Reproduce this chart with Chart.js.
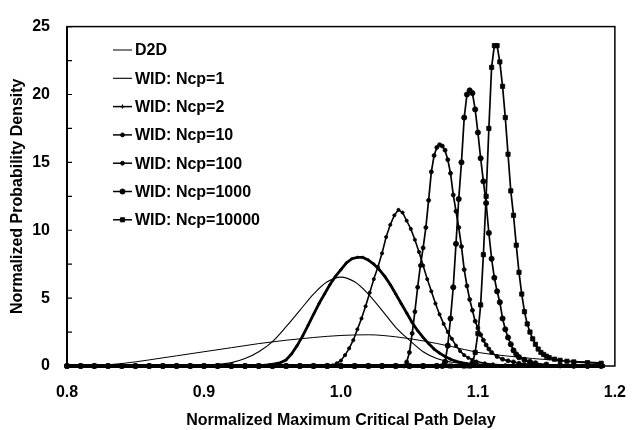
<!DOCTYPE html>
<html>
<head>
<meta charset="utf-8">
<script src="https://cdn.jsdelivr.net/npm/chart.js@4.4.1/dist/chart.umd.min.js"></script>
<style>
html,body{margin:0;padding:0;background:#fff;}
canvas{display:block;}
</style>
</head>
<body>
<canvas id="c" width="643" height="430"></canvas>
<script>
// ---- Data ----
const seriesLabels = ["D2D","WID: Ncp=1","WID: Ncp=2","WID: Ncp=10","WID: Ncp=100","WID: Ncp=1000","WID: Ncp=10000"];

const d2dX = [0.80,0.82,0.84,0.86,0.88,0.90,0.92,0.94,0.96,0.98,1.00,1.02,1.04,1.06,1.08,1.10,1.12,1.14,1.16,1.18,1.19];
const d2dY = [0.0,0.03,0.18,0.45,0.75,1.05,1.35,1.65,1.9,2.1,2.25,2.3,2.15,1.85,1.45,1.0,0.75,0.55,0.4,0.3,0.25];

const ncp1X = [0.80,0.82,0.84,0.86,0.88,0.90,0.91,0.92,0.93,0.94,0.95,0.96,0.97,0.98,0.99,1.00,1.01,1.02,1.03,1.04,1.05,1.06,1.07,1.08,1.09,1.10,1.11,1.12,1.14,1.16,1.18,1.19];
const ncp1Y = [0,0,0,0,0,0.05,0.12,0.25,0.55,1.05,1.8,2.9,4.1,5.3,6.2,6.55,6.2,5.3,4.1,2.85,1.9,1.05,0.55,0.3,0.15,0.07,0.03,0.01,0,0,0,0];

const ncp2X = [0.80,0.81,0.82,0.83,0.84,0.85,0.86,0.87,0.88,0.89,0.90,0.91,0.92,0.93,
  0.940,0.944,0.948,0.952,0.956,0.960,0.964,0.968,0.972,0.976,0.980,0.984,0.988,0.992,0.996,1.000,1.004,1.008,1.012,1.016,1.020,1.024,1.028,1.032,1.036,1.040,1.044,1.048,1.052,1.056,1.060,1.064,1.068,1.072,1.076,1.080,1.084,1.088,1.092,
  1.10,1.11,1.12,1.13,1.14,1.15,1.16,1.17,1.18,1.19];
const ncp2Y = [0,0,0,0,0,0,0,0,0,0,0,0,0,0,
  0.0,0.05,0.1,0.15,0.25,0.45,0.9,1.5,2.2,3.0,3.8,4.6,5.3,6.0,6.6,7.1,7.6,7.9,8.0,8.0,7.8,7.5,7.1,6.6,6.0,5.3,4.6,3.9,3.2,2.6,2.1,1.65,1.25,0.95,0.7,0.5,0.35,0.25,0.18,
  0.1,0.05,0.02,0,0,0,0,0,0,0];

const ncp10X = [0.80,0.81,0.82,0.83,0.84,0.85,0.86,0.87,0.88,0.89,0.90,0.91,0.92,0.93,0.94,0.95,0.96,0.97,0.98,0.99,
  0.994,0.997,1.000,1.003,1.006,1.009,1.012,1.015,1.018,1.021,1.024,1.027,1.030,1.033,1.036,1.039,1.042,1.045,1.048,1.051,1.054,1.057,1.060,1.063,1.066,1.069,1.072,1.075,1.078,1.081,1.084,1.087,1.090,1.093,1.096,1.099,
  1.105,1.111,1.120,1.130,1.140,1.150,1.160,1.170,1.180,1.190];
const ncp10Y = [0,0,0,0,0,0,0,0,0,0,0,0,0,0,0,0,0,0,0,0,
  0.05,0.2,0.4,0.8,1.3,1.9,2.7,3.5,4.4,5.4,6.4,7.3,8.3,9.5,10.4,11.1,11.5,11.3,10.7,10.1,9.3,8.4,7.4,6.4,5.5,4.6,3.8,3.1,2.5,2.0,1.5,1.1,0.8,0.6,0.45,0.33,
  0.2,0.12,0.06,0.03,0.01,0,0,0,0,0];

const ncp100X = [0.80,0.81,0.82,0.83,0.84,0.85,0.86,0.87,0.88,0.89,0.90,0.91,0.92,0.93,0.94,0.95,0.96,0.97,0.98,0.99,1.00,1.01,1.02,1.03,1.04,
  1.046,1.048,1.050,1.052,1.054,1.056,1.058,1.060,1.062,1.064,1.066,1.068,1.070,1.072,1.074,1.076,1.078,1.080,1.082,1.084,1.086,1.088,1.090,1.092,1.094,1.096,1.098,1.100,1.102,1.104,1.106,1.108,1.110,
  1.114,1.118,1.122,1.126,1.130,1.140,1.150,1.160,1.170,1.180,1.190];
const ncp100Y = [0,0,0,0,0,0,0,0,0,0,0,0,0,0,0,0,0,0,0,0,0,0,0,0,0,
  0.0,0.3,1.0,2.4,4.0,5.8,7.4,8.7,10.2,12.2,14.3,15.5,16.1,16.3,16.2,15.9,15.2,14.2,12.6,11.4,10.2,8.8,7.1,5.9,4.9,4.1,3.3,2.8,2.3,1.9,1.55,1.25,1.0,
  0.7,0.5,0.38,0.3,0.2,0.1,0.05,0.02,0,0,0];

const ncp1000X = [0.80,0.81,0.82,0.83,0.84,0.85,0.86,0.87,0.88,0.89,0.90,0.91,0.92,0.93,0.94,0.95,0.96,0.97,0.98,0.99,1.00,1.01,1.02,1.03,1.04,1.05,1.06,1.07,
  1.074,1.076,1.078,1.080,1.082,1.084,1.086,1.088,1.090,1.092,1.094,1.096,1.098,1.100,1.102,1.104,1.106,1.108,1.110,1.112,1.114,1.116,1.118,1.120,1.122,1.124,1.126,1.128,1.130,
  1.134,1.138,1.142,1.150,1.160,1.170,1.180,1.190];
const ncp1000Y = [0,0,0,0,0,0,0,0,0,0,0,0,0,0,0,0,0,0,0,0,0,0,0,0,0,0,0,0,
  0.0,0.3,1.5,3.5,5.8,9.0,12.3,15.0,18.3,20.0,20.3,20.1,18.9,17.2,15.3,13.6,12.0,9.8,7.9,6.5,5.5,4.7,3.5,2.7,2.1,1.6,1.15,0.85,0.65,
  0.45,0.3,0.2,0.1,0.05,0.02,0,0];

const ncp10000X = [0.80,0.81,0.82,0.83,0.84,0.85,0.86,0.87,0.88,0.89,0.90,0.91,0.92,0.93,0.94,0.95,0.96,0.97,0.98,0.99,1.00,1.01,1.02,1.03,1.04,1.05,1.06,1.07,1.08,1.09,
  1.094,1.096,1.098,1.100,1.102,1.104,1.106,1.108,1.110,1.112,1.114,1.116,1.118,1.120,1.122,1.124,1.126,1.128,1.130,1.132,1.134,1.136,1.138,1.140,1.142,1.144,1.146,1.148,1.150,1.152,
  1.156,1.160,1.165,1.170,1.180,1.190];
const ncp10000Y = [0,0,0,0,0,0,0,0,0,0,0,0,0,0,0,0,0,0,0,0,0,0,0,0,0,0,0,0,0,0,
  0.0,0.2,1.0,2.4,4.5,8.2,12.5,17.5,22.0,23.6,23.6,22.4,20.6,18.3,15.6,12.9,11.1,8.9,6.9,5.3,4.0,3.1,2.5,2.0,1.6,1.25,1.0,0.85,0.72,0.62,
  0.5,0.42,0.35,0.3,0.25,0.2];

const xTickValues = [0.8,0.9,1.0,1.1,1.2];
const yTickValues = [0,5,10,15,20,25];
const yMinorTicks = [2.5,7.5,12.5,17.5,22.5];

const xTitle = "Normalized Maximum Critical Path Delay";
const yTitle = "Normalized Probability Density";

// ---- Build ----
function pts(xs, ys){ return xs.map((x,i)=>({x:x, y:ys[i]})); }
const FONT = "'Liberation Sans', Arial, sans-serif";
const INK = '#000';

const styles = [
  {w:1,   pr:0,   ps:'circle', mono:true},
  {w:1.1, pr:0,   ps:'circle', mono:true},
  {w:2.8, pr:1.6, ps:'cross'},
  {w:1.6, pr:1.6, ps:'circle'},
  {w:1.7, pr:2.0, ps:'circle'},
  {w:1.7, pr:2.6, ps:'circle'},
  {w:1.7, pr:3.0, ps:'rect'}
];
const rawData = [
  pts(d2dX,d2dY), pts(ncp1X,ncp1Y), pts(ncp2X,ncp2Y), pts(ncp10X,ncp10Y),
  pts(ncp100X,ncp100Y), pts(ncp1000X,ncp1000Y), pts(ncp10000X,ncp10000Y)
];
const datasets = seriesLabels.map((lab,i)=>({
  label: lab,
  data: rawData[i],
  borderColor: INK,
  backgroundColor: INK,
  borderWidth: styles[i].w,
  pointRadius: styles[i].pr,
  pointStyle: styles[i].ps,
  pointBorderWidth: styles[i].ps==='cross'?1.2:0.8,
  pointBackgroundColor: INK,
  pointBorderColor: INK,
  tension: 0,
  cubicInterpolationMode: styles[i].mono ? 'monotone' : 'default',
  clip: false,
  order: 7-i
}));

const framePlugin = {
  id: 'frame',
  afterDatasetsDraw(chart){
    const {ctx, chartArea:a, scales} = chart;
    const y = scales.y;
    ctx.save();
    ctx.strokeStyle = INK;
    ctx.lineWidth = 1.5;
    ctx.strokeRect(a.left, a.top, a.right-a.left, a.bottom-a.top);
    ctx.lineWidth = 2;
    ctx.beginPath(); ctx.moveTo(a.left, a.top); ctx.lineTo(a.left, a.bottom); ctx.stroke();
    ctx.lineWidth = 4;
    ctx.beginPath(); ctx.moveTo(a.left, a.bottom); ctx.lineTo(a.right-10, a.bottom); ctx.stroke();
    ctx.lineWidth = 1.2;
    ctx.beginPath();
    yTickValues.concat(yMinorTicks).forEach(v=>{
      const py = y.getPixelForValue(v);
      ctx.moveTo(a.left, py); ctx.lineTo(a.left+5, py);
    });
    ctx.stroke();
    ctx.restore();
  }
};

const legendPlugin = {
  id: 'customLegend',
  afterDraw(chart){
    const ctx = chart.ctx;
    ctx.save();
    ctx.font = "bold 16px " + FONT;
    ctx.textBaseline = 'middle';
    ctx.textAlign = 'left';
    const x0 = 113, x1 = 132, tx = 135, y0 = 50, dy = 28.3;
    chart.data.datasets.forEach((ds,i)=>{
      const yy = y0 + i*dy;
      ctx.strokeStyle = INK; ctx.fillStyle = INK;
      ctx.lineWidth = Math.min(ds.borderWidth, 1.5);
      ctx.beginPath(); ctx.moveTo(x0, yy); ctx.lineTo(x1, yy); ctx.stroke();
      if (ds.pointRadius > 0){
        ctx.lineWidth = ds.pointBorderWidth;
        Chart.helpers.drawPoint(ctx, {pointStyle: ds.pointStyle, radius: Math.max(ds.pointRadius,2), rotation: 0, borderWidth: ds.pointBorderWidth}, (x0+x1)/2, yy);
      }
      ctx.fillStyle = INK;
      ctx.fillText(ds.label, tx, yy+1);
    });
    ctx.restore();
  }
};

new Chart(document.getElementById('c'), {
  type: 'line',
  data: { datasets: datasets },
  plugins: [framePlugin, legendPlugin],
  options: {
    responsive: false,
    animation: false,
    devicePixelRatio: 1,
    layout: { padding: { top: 15.5, right: 19, left: 0, bottom: 0 } },
    plugins: { legend: { display: false }, tooltip: { enabled: false } },
    elements: { line: { borderJoinStyle: 'round' } },
    scales: {
      x: {
        type: 'linear', min: 0.8, max: 1.2,
        afterFit(s){ s.height = 64; },
        afterBuildTicks(s){ s.ticks = xTickValues.map(v=>({value:v})); },
        ticks: { padding: 17, color: INK, font: { family: FONT, size: 16, weight: 'bold' },
                 callback: v => Number(v).toFixed(1), maxRotation: 0 },
        grid: { display: false, drawTicks: false },
        border: { display: false },
        title: { display: true, text: xTitle, color: INK, padding: { top: 0, bottom: 0 },
                 font: { family: FONT, size: 16, weight: 'bold' } }
      },
      y: {
        type: 'linear', min: 0, max: 25,
        afterFit(s){ s.width = 67; },
        afterBuildTicks(s){ s.ticks = yTickValues.map(v=>({value:v})); },
        ticks: { padding: 17, color: INK, font: { family: FONT, size: 16, weight: 'bold' } },
        grid: { display: false, drawTicks: false },
        border: { display: false },
        title: { display: true, text: yTitle, color: INK, padding: { top: 8, bottom: 0 },
                 font: { family: FONT, size: 16, weight: 'bold' } }
      }
    }
  }
});
</script>
</body>
</html>
